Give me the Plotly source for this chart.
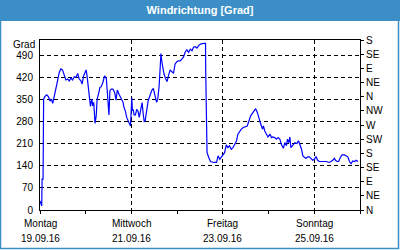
import pandas as pd
import plotly.graph_objects as go

# ---- data (hours since Mon 19.09.16 00:00, wind direction in degrees) ----
hours = [0.0, 0.5, 0.9, 1.1, 1.6, 1.9, 2.5, 3.5, 4.4, 5.3, 6.0, 6.7, 7.4, 8.3, 9.2, 10.1,
         10.9, 11.8, 12.7, 13.6, 14.5, 15.4, 16.2, 17.1, 18.0, 18.9, 19.8, 20.6, 21.5, 22.1,
         22.9, 24.2, 24.7, 25.4, 25.9, 26.5, 27.2, 27.7, 28.2, 28.9, 29.5, 30.0, 30.9, 31.4,
         32.1, 33.0, 33.9, 34.8, 35.3, 35.6, 36.2, 36.7, 37.4, 38.3, 39.2, 39.9, 40.6, 41.5,
         42.4, 43.1, 43.6, 44.1, 44.8, 45.5, 46.2, 46.9, 47.5, 47.8, 48.2, 48.5, 48.9, 49.4,
         50.1, 50.8, 51.5, 52.1, 52.9, 53.6, 54.2, 54.7, 55.2, 55.9, 56.8, 57.7, 58.6, 59.5,
         60.4, 61.2, 61.8, 62.5, 63.0, 63.5, 63.9, 64.4, 65.1, 66.0, 66.7, 67.4, 68.3, 69.2,
         70.1, 70.9, 71.8, 72.7, 73.6, 74.5, 75.4, 76.2, 77.1, 78.0, 78.9, 79.8, 80.6, 81.5,
         82.4, 83.3, 84.2, 85.9, 86.9, 87.0, 87.4, 87.7, 88.6, 89.5, 91.2, 92.7, 93.5, 94.4,
         95.1, 96.0, 96.9, 97.8, 98.6, 99.5, 100.4, 101.3, 102.2, 103.2, 103.9, 104.8, 105.7,
         106.7, 107.6, 108.8, 109.7, 110.6, 111.5, 112.4, 113.2, 114.1, 115.0, 115.9, 116.8,
         117.3, 118.0, 118.9, 119.7, 120.8, 121.5, 122.2, 123.2, 124.1, 125.0, 125.9, 126.8,
         127.8, 128.5, 129.4, 129.9, 130.6, 131.2, 131.7, 132.4, 133.1, 133.8, 134.9, 135.7,
         136.4, 137.3, 138.0, 138.7, 139.6, 140.5, 141.4, 142.2, 143.1, 144.0, 144.9, 145.8,
         146.6, 148.4, 150.2, 151.9, 152.8, 153.7, 154.6, 155.1, 156.0, 156.8, 157.7, 158.6,
         159.8, 160.7, 161.6, 162.5, 163.3, 164.2, 165.1, 166.0, 166.9]
direction = [29, 13, 13, 98, 98, 352, 360, 366, 360, 347, 352, 339, 357, 384, 410, 437,
             448, 445, 426, 413, 416, 410, 419, 413, 423, 421, 434, 416, 410, 400,
             426, 445, 426, 379, 347, 329, 352, 331, 342, 275, 299, 352, 373, 389,
             391, 405, 426, 419, 379, 347, 302, 379, 384, 384, 373, 349, 381, 368,
             357, 350, 342, 326, 315, 294, 283, 275, 267, 304, 357, 315, 320, 302,
             302, 320, 313, 294, 315, 341, 304, 281, 283, 315, 347, 363, 379, 386,
             363, 342, 352, 391, 442, 497, 474, 448, 432, 416, 408, 426, 445, 439,
             435, 463, 471, 474, 474, 479, 487, 501, 509, 501, 511, 506, 517, 519,
             514, 522, 527, 529, 529, 442, 278, 182, 167, 154, 151, 151, 172, 161,
             167, 177, 182, 207, 198, 204, 193, 198, 209, 220, 241, 251, 257,
             262, 264, 267, 283, 299, 307, 315, 322, 310, 288, 273, 257,
             267, 251, 243, 232, 241, 230, 232, 230, 225, 230, 225, 207,
             196, 214, 204, 225, 214, 232, 198, 204, 209, 214, 211, 220,
             209, 193, 172, 167, 164, 169, 169, 164, 158, 161, 169, 158,
             154, 154, 154, 151, 154, 158, 164, 158, 154, 154, 167, 175,
             175, 172, 169, 154, 147, 156, 154, 158, 154]

start = "2016-09-19"
end = "2016-09-26"
x_tick_dates = ["2016-09-19", "2016-09-21", "2016-09-23", "2016-09-25"]
x_tick_days = ["Montag", "Mittwoch", "Freitag", "Sonntag"]
x_tick_labels = ["19.09.16", "21.09.16", "23.09.16", "25.09.16"]
left_ticks = [0, 70, 140, 210, 280, 350, 420, 490]
right_ticks = [0, 45, 90, 135, 180, 225, 270, 315, 360, 405, 450, 495, 540]
right_labels = ["N", "NE", "E", "SE", "S", "SW", "W", "NW", "N", "NE", "E", "SE", "S"]
y_max = 540

times = pd.Timestamp(start) + pd.to_timedelta(hours, unit="h")

W, H = 400, 250
ML, MR, MT, MB = 40, 40, 40, 40
PW, PH = W - ML - MR, H - MT - MB
BLUE = "#3c8fc6"
FONT = "Liberation Sans"


def px_x(p):
    return (p - ML) / PW


def px_y(p):
    return (H - MB - p) / PH


fig = go.Figure()
fig.add_trace(go.Scatter(x=times, y=direction, mode="lines",
                         line=dict(color="#0000ff", width=1.2),
                         showlegend=False, hoverinfo="skip"))
fig.add_trace(go.Scatter(x=[times[0]], y=[None], yaxis="y2", mode="lines",
                         showlegend=False, hoverinfo="skip"))

annotations = [
    dict(text="Grad", xref="paper", yref="paper", x=0, y=1,
         xanchor="right", yanchor="middle", xshift=-3, yshift=-4,
         showarrow=False, font=dict(family=FONT, size=10, color="black")),
]
for d, day, lab in zip(x_tick_dates, x_tick_days, x_tick_labels):
    annotations.append(dict(text=day, x=d, xref="x", y=px_y(223), yref="paper",
                            xanchor="center", yanchor="middle", showarrow=False,
                            font=dict(family=FONT, size=10, color="black")))
    annotations.append(dict(text=lab, x=d, xref="x", y=px_y(238.5), yref="paper",
                            xanchor="center", yanchor="middle", showarrow=False,
                            font=dict(family=FONT, size=10, color="black")))

fig.update_layout(
    width=W, height=H,
    margin=dict(l=ML, r=MR, t=MT, b=MB, autoexpand=False),
    paper_bgcolor="white", plot_bgcolor="white",
    font=dict(family=FONT, size=10, color="black"),
    title=dict(text="<b>Windrichtung [Grad]</b>", x=0.5, xref="container", xanchor="center",
               y=1 - 10.5 / H, yref="container", yanchor="middle",
               font=dict(family=FONT, size=11, color="white")),
    xaxis=dict(type="date", range=[start, end], automargin=False,
               tickvals=x_tick_dates, showticklabels=False,
               ticks="outside", ticklen=3, tickcolor="black",
               minor=dict(ticks="outside", ticklen=3, tickcolor="black",
                          dtick=86400000, tick0=start, showgrid=False),
               showgrid=True, gridcolor="black", griddash="4px,3px", gridwidth=1,
               showline=True, linecolor="black", linewidth=1, mirror=True,
               zeroline=False, fixedrange=True),
    yaxis=dict(range=[0, y_max], tickvals=left_ticks, automargin=False,
               ticks="", ticklabelstandoff=4,
               showgrid=True, gridcolor="black", griddash="4px,3px", gridwidth=1,
               showline=True, linecolor="black", linewidth=1,
               zeroline=False, fixedrange=True),
    yaxis2=dict(range=[0, y_max], overlaying="y", side="right", automargin=False,
                tickvals=right_ticks, ticktext=right_labels,
                ticks="outside", ticklen=3, tickcolor="black",
                showgrid=False, showline=True, linecolor="black", linewidth=1,
                zeroline=False, fixedrange=True),
    shapes=[
        dict(type="rect", xref="paper", yref="paper",
             x0=px_x(0), x1=px_x(W), y0=px_y(21), y1=px_y(0),
             fillcolor=BLUE, line=dict(width=0), layer="below"),
        dict(type="rect", xref="paper", yref="paper",
             x0=px_x(0.5), x1=px_x(398.5), y0=px_y(248.5), y1=px_y(0.5),
             fillcolor="rgba(0,0,0,0)", line=dict(color=BLUE, width=1.5)),
    ],
    annotations=annotations,
)

fig.write_html("out.html")
